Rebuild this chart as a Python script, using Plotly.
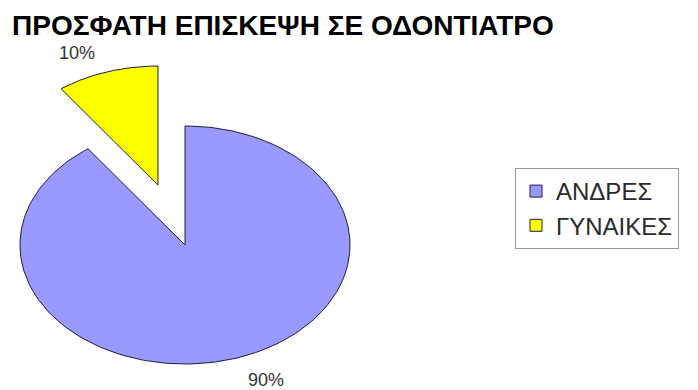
import numpy as np
import plotly.graph_objects as go

# Survey shares: recent visit to the dentist
labels = ["ΑΝΔΡΕΣ", "ΓΥΝΑΙΚΕΣ"]
shares = [90, 10]
colors = ["#9999FF", "#FFFF00"]
pulls = [0.0, 0.53]
title = "ΠΡΟΣΦΑΤΗ ΕΠΙΣΚΕΨΗ ΣΕ ΟΔΟΝΤΙΑΤΡΟ"

W, H = 698, 390
# elliptical pie geometry (in pixel-like axis units)
CX, CY, RX, RY = 185, 245, 165, 119
FONT = "Arial, 'Liberation Sans', sans-serif"

fig = go.Figure()

total = float(sum(shares))
start = 0.0
annotations = []
for lab, val, col, pull in zip(labels, shares, colors, pulls):
    span = 360.0 * val / total
    a0, a1 = start, start + span
    mid = np.radians((a0 + a1) / 2)
    ox = pull * RX * np.sin(mid)
    oy = -pull * RY * np.cos(mid)
    th = np.radians(np.linspace(a0, a1, 200))
    xs = np.concatenate([[CX + ox], CX + ox + RX * np.sin(th), [CX + ox]])
    ys = np.concatenate([[CY + oy], CY + oy - RY * np.cos(th), [CY + oy]])
    fig.add_trace(go.Scatter(
        x=xs, y=ys, mode="lines", fill="toself", fillcolor=col,
        line=dict(color="#1c1c3c", width=1), showlegend=False,
        hoverinfo="skip",
    ))
    # percentage label just outside the slice edge
    k = 1.19
    lx = CX + ox + k * RX * np.sin(mid)
    ly = CY + oy - k * RY * np.cos(mid)
    annotations.append(dict(
        x=lx, y=ly, xref="x", yref="y", text=f"{val}%", showarrow=False,
        xanchor="left" if np.sin(mid) >= 0 else "right",
        yanchor="middle", yshift=-3 if np.cos(mid) > 0 else 0,
        font=dict(family=FONT, size=18, color="#333333"),
    ))
    start = a1

# legend entries with square swatches
for lab, col in zip(labels, colors):
    fig.add_trace(go.Scatter(
        x=[None], y=[None], mode="markers", name=lab,
        marker=dict(symbol="square", size=12, color=col,
                    line=dict(color="#222244", width=1)),
    ))

fig.update_layout(
    width=W, height=H,
    margin=dict(l=0, r=0, t=0, b=0),
    paper_bgcolor="white", plot_bgcolor="white",
    xaxis=dict(range=[0, W], visible=False, fixedrange=True),
    yaxis=dict(range=[H, 0], visible=False, fixedrange=True),
    title=dict(
        text=f"<b>{title}</b>", x=12 / W, xanchor="left",
        y=1 - 25 / H, yanchor="middle",
        font=dict(family=FONT, size=28, color="#000000"),
    ),
    legend=dict(
        x=515 / W, y=1 - 168 / H, xanchor="left", yanchor="top",
        font=dict(family=FONT, size=24, color="#2a2a2a"),
        bordercolor="#999999", borderwidth=1, bgcolor="white",
        itemwidth=30,
    ),
    annotations=annotations,
    showlegend=True,
)

fig.write_html("out.html")
